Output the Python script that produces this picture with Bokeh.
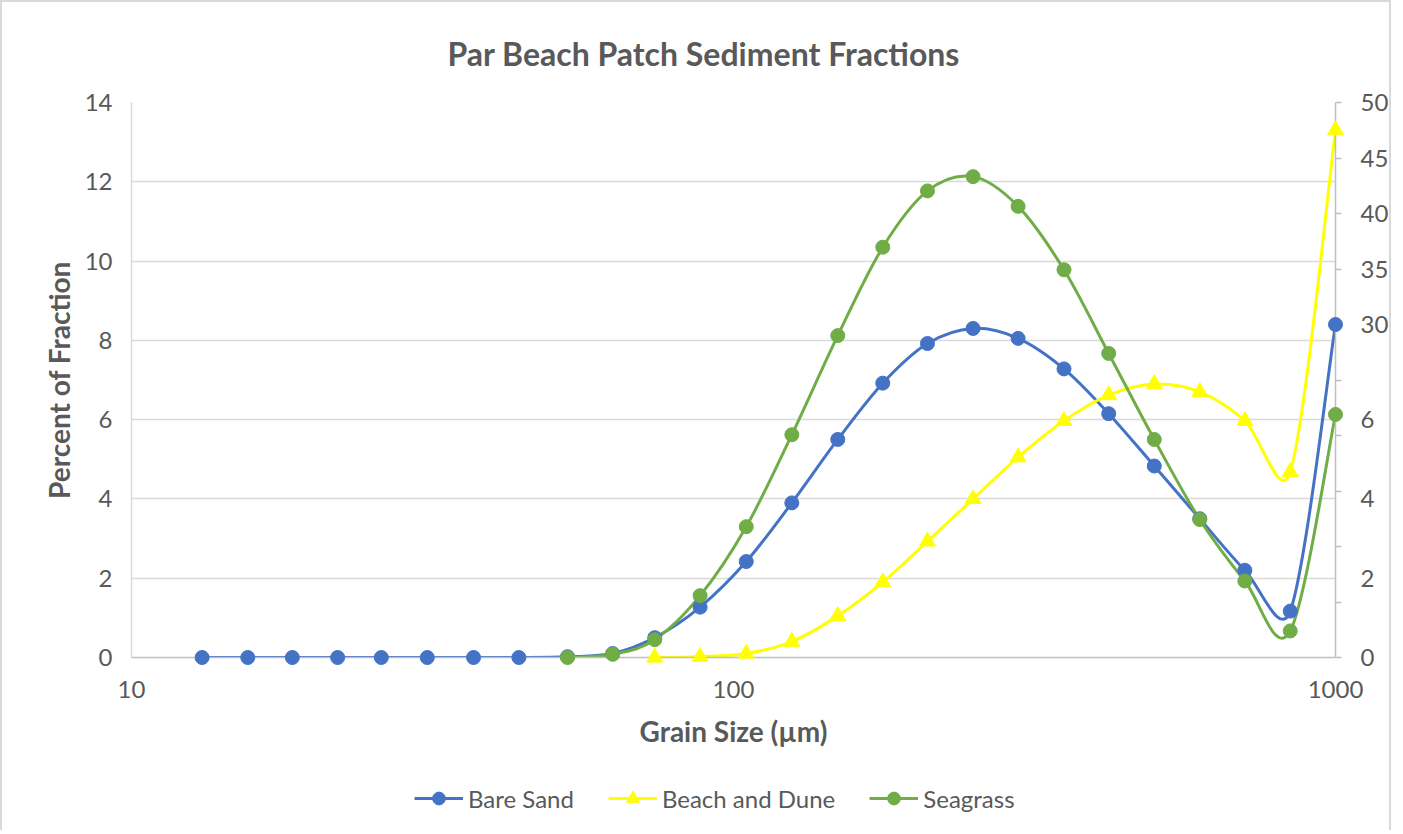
import numpy as np
from bokeh.plotting import figure
from bokeh.layouts import column
from bokeh.models import (Range1d, LinearAxis, FixedTicker, CustomJSTickFormatter,
                          Legend, LegendItem)
from bokeh.embed import file_html
from bokeh.resources import INLINE

# ---------------- data ----------------
SIZES_UM = [13.1, 15.6, 18.5, 22, 26, 31, 37, 44, 53, 63, 74, 88, 105, 125,
            149, 177, 210, 250, 297, 354, 420, 500, 595, 707, 841, 1000]

BARE_SAND_SIZES = SIZES_UM
BARE_SAND = [0, 0, 0, 0, 0, 0, 0, 0, 0.02, 0.1, 0.5, 1.27, 2.42, 3.9, 5.5,
             6.92, 7.92, 8.3, 8.05, 7.28, 6.15, 4.83, 3.5, 2.2, 1.17, 30.0]

BEACH_DUNE_SIZES = SIZES_UM[10:]
BEACH_DUNE = [0, 0.02, 0.1, 0.4, 1.05, 1.9, 2.93, 4.0, 5.05, 5.97, 6.62,
              6.9, 6.7, 5.97, 4.68, 47.5]

SEAGRASS_SIZES = SIZES_UM[8:]
SEAGRASS = [0, 0.08, 0.45, 1.56, 3.3, 5.62, 8.12, 10.35, 11.77, 12.13, 11.38,
            9.78, 7.67, 5.5, 3.48, 1.93, 0.67, 6.13]

SERIES_NAMES = ["Bare Sand", "Beach and Dune", "Seagrass"]
COLORS = ["#4472C4", "#FFFF00", "#70AD47"]
MARKERS = ["circle", "triangle", "circle"]

TITLE = "Par Beach Patch Sediment Fractions"
X_LABEL = "Grain Size (\u00b5m)"
Y_LABEL = "Percent of Fraction"
X_TICKS = [10, 100, 1000]
LEFT_TICKS = [0, 2, 4, 6, 8, 10, 12, 14]
PRIMARY_MAX = 14
SECONDARY_MAX = 50
RIGHT_LOW_LABELS = [0, 2, 4, 6]          # labels read on the primary scale
RIGHT_HIGH_LABELS = [30, 35, 40, 45, 50]  # labels read on the secondary scale
RIGHT_TICK_MARKS = list(range(0, 51, 5))  # secondary-scale tick marks

TEXT = "#595959"
FONT = "Lato"
BORDER = "2px solid #D9D9D9"

SEC = PRIMARY_MAX / SECONDARY_MAX


def to_plot(v):
    # values above the primary axis are read on the secondary (0-50) scale
    return v if v <= PRIMARY_MAX else round(v * SEC, 9)


def smooth_segments(xs, ys):
    """Excel-like smoothed line: cubic Bezier segments with Catmull-Rom
    control points (arm clamped to half the segment), in (log x, y)."""
    u = np.log10(np.asarray(xs, float))
    v = np.asarray(ys, float)
    su, sv = 602.0, 555.0 / PRIMARY_MAX
    P = np.column_stack([u * su, v * sv])
    n = len(P)
    out = {k: [] for k in ("x0", "y0", "x1", "y1", "cx0", "cy0", "cx1", "cy1")}
    for i in range(n - 1):
        p0 = P[max(i - 1, 0)]
        p1 = P[i]
        p2 = P[i + 1]
        p3 = P[min(i + 2, n - 1)]
        d12 = np.linalg.norm(p2 - p1)
        t1 = (p2 - p0) / 6.0
        t2 = (p3 - p1) / 6.0
        if np.linalg.norm(t1) > d12 / 2:
            t1 = t1 / np.linalg.norm(t1) * d12 / 2
        if np.linalg.norm(t2) > d12 / 2:
            t2 = t2 / np.linalg.norm(t2) * d12 / 2
        c1 = p1 + t1
        c2 = p2 - t2
        for (kx, ky), pt in zip([("x0", "y0"), ("x1", "y1"), ("cx0", "cy0"), ("cx1", "cy1")],
                                [p1, p2, c1, c2]):
            out[kx].append(10 ** (pt[0] / su))
            out[ky].append(pt[1] / sv)
    return out


p = figure(width=1391, height=759, x_axis_type="log",
           x_range=Range1d(10, 1000), y_range=Range1d(0, PRIMARY_MAX),
           output_backend="svg", toolbar_location=None,
           min_border_left=129, min_border_right=58,
           min_border_top=100, min_border_bottom=104)
p.styles = {"border-top": BORDER, "border-left": BORDER, "border-right": BORDER}
p.outline_line_color = None
p.background_fill_color = "white"
p.border_fill_color = "white"

# title
p.title.text = TITLE
p.title.text_font = FONT
p.title.text_font_size = "32px"
p.title.text_font_style = "bold"
p.title.text_color = TEXT
p.title.align = "left"
p.title.offset = 316
p.title.standoff = 59

# x axis
xa = p.xaxis[0]
xa.ticker = FixedTicker(ticks=X_TICKS)
xa.formatter = CustomJSTickFormatter(code="return tick.toFixed(0);")
xa.major_tick_in = 0
xa.major_tick_out = 0
xa.minor_tick_in = 0
xa.minor_tick_out = 0
xa.axis_line_color = "#BFBFBF"
xa.axis_line_width = 1.5
xa.major_label_text_font = FONT
xa.major_label_text_font_size = "24px"
xa.major_label_text_color = TEXT
xa.major_label_standoff = 23
xa.axis_label = X_LABEL
xa.axis_label_text_font = FONT
xa.axis_label_text_font_size = "28px"
xa.axis_label_text_font_style = "bold"
xa.axis_label_text_color = TEXT
xa.axis_label_standoff = 13

# left axis
ya = p.yaxis[0]
ya.ticker = FixedTicker(ticks=LEFT_TICKS)
ya.major_tick_in = 0
ya.major_tick_out = 0
ya.minor_tick_in = 0
ya.minor_tick_out = 0
ya.axis_line_color = "#D9D9D9"
ya.axis_line_width = 1.5
ya.major_label_text_font = FONT
ya.major_label_text_font_size = "24px"
ya.major_label_text_color = TEXT
ya.major_label_standoff = 19
ya.axis_label = Y_LABEL
ya.axis_label_text_font = FONT
ya.axis_label_text_font_size = "28px"
ya.axis_label_text_font_style = "bold"
ya.axis_label_text_color = TEXT
ya.axis_label_standoff = 6

p.xgrid.visible = False
p.ygrid.grid_line_color = "#D9D9D9"
p.ygrid.grid_line_width = 1.5

# right (broken) axis
label_pos = [float(v) for v in RIGHT_LOW_LABELS] + [round(v * SEC, 9) for v in RIGHT_HIGH_LABELS]
tick_pos = [round(v * SEC, 9) for v in RIGHT_TICK_MARKS]
ra = LinearAxis(
    ticker=FixedTicker(ticks=label_pos, minor_ticks=tick_pos),
    formatter=CustomJSTickFormatter(
        args=dict(low_max=max(RIGHT_LOW_LABELS), scale=1.0 / SEC),
        code="return tick <= low_max + 0.5 ? tick.toFixed(0) : (tick * scale).toFixed(0);"),
)
ra.major_tick_in = 0
ra.major_tick_out = 0
ra.major_tick_line_color = None
ra.minor_tick_in = 0
ra.minor_tick_out = 6
ra.minor_tick_line_color = "#BFBFBF"
ra.minor_tick_line_width = 1.5
ra.axis_line_color = "#BFBFBF"
ra.axis_line_width = 1.5
ra.major_label_text_font = FONT
ra.major_label_text_font_size = "24px"
ra.major_label_text_color = TEXT
ra.major_label_standoff = 19
p.add_layout(ra, "right")

# legend strip below the chart (its own small canvas)
lg = figure(width=1391, height=71, x_range=Range1d(0, 1), y_range=Range1d(0, 1),
            output_backend="svg", toolbar_location=None, title=None,
            min_border=0, x_axis_location=None, y_axis_location=None)
lg.styles = {"border-left": BORDER, "border-right": BORDER}
lg.outline_line_color = None
lg.xgrid.visible = False
lg.ygrid.visible = False
lg.background_fill_color = "white"
lg.border_fill_color = "white"

# series
items = []
for name, xs, ys, color, marker in zip(
        SERIES_NAMES,
        [BARE_SAND_SIZES, BEACH_DUNE_SIZES, SEAGRASS_SIZES],
        [BARE_SAND, BEACH_DUNE, SEAGRASS],
        COLORS, MARKERS):
    yplot = [to_plot(v) for v in ys]
    seg = smooth_segments(xs, yplot)
    p.bezier(x0=seg["x0"], y0=seg["y0"], x1=seg["x1"], y1=seg["y1"],
             cx0=seg["cx0"], cy0=seg["cy0"], cx1=seg["cx1"], cy1=seg["cy1"],
             line_color=color, line_width=3, line_cap="round")
    sr = p.scatter(x=list(xs), y=yplot, marker=marker,
                   size=(16 if marker == "triangle" else 14),
                   fill_color=color, line_color=color, line_width=1)
    sr.level = "overlay"
    # legend swatches: same series and styling in the legend strip (out of its view)
    l_line = lg.line(x=list(xs), y=yplot, line_color=color, line_width=3)
    l_mark = lg.scatter(x=list(xs), y=yplot, marker=marker, size=14,
                        fill_color=color, line_color=color)
    items.append(LegendItem(label=name, renderers=[l_line, l_mark]))

legend = Legend(items=items, orientation="horizontal", location=(283, 16),
                glyph_width=49, glyph_height=32, label_standoff=5, spacing=34,
                padding=0, margin=0, border_line_color=None,
                background_fill_alpha=0,
                label_text_font=FONT, label_text_font_size="24px",
                label_text_color=TEXT)
lg.add_layout(legend, "center")

layout = column(p, lg, spacing=0)
open("out.html", "w").write(file_html(layout, INLINE))
